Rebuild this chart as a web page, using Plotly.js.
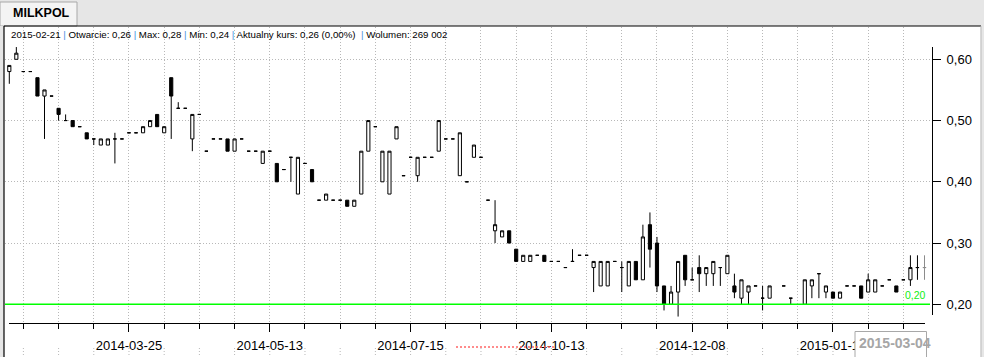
<!DOCTYPE html>
<html>
<head>
<meta charset="utf-8">
<script src="https://cdn.plot.ly/plotly-3.0.1.min.js"></script>
<style>
html,body{margin:0;padding:0;background:#fff;}
#chart{width:984px;height:357px;}
</style>
</head>
<body>
<div id="chart"></div>
<script>
// ---- data (one entry per trading session, null = empty slot) ----
const openP = [0.58,0.60,0.58,0.58,0.57,0.54,0.54,0.52,0.50,0.50,
  0.49,0.48,0.47,0.46,0.46,0.47,0.47,0.48,0.48,0.48,
  0.49,0.51,0.48,0.57,0.52,0.52,0.47,0.51,0.45,0.47,
  0.47,0.47,0.45,0.47,0.45,0.45,0.43,0.45,0.43,0.42,
  0.44,0.38,0.43,0.42,0.37,0.37,0.37,0.37,0.37,0.36,
  0.38,0.45,0.49,0.40,0.38,0.47,0.41,0.44,0.41,0.44,
  0.44,0.45,0.47,0.47,0.41,0.40,0.44,0.44,0.37,0.32,
  0.31,0.32,0.29,0.27,0.27,0.28,0.28,0.27,0.27,0.26,
  0.27,0.28,0.28,0.26,0.23,0.23,0.27,0.26,0.23,0.27,
  0.24,0.33,0.30,0.23,0.20,0.22,0.28,0.24,0.26,0.25,
  0.25,0.26,0.25,0.23,0.21,0.22,0.23,0.21,0.21,null,
  0.23,0.21,null,0.20,0.23,0.25,0.22,0.22,0.21,0.23,
  0.23,0.23,0.22,0.22,0.23,0.24,0.23,0.24,0.24,0.26,
  0.26];
const highP = [0.59,0.62,0.58,0.58,0.57,0.55,0.54,0.52,0.51,0.50,
  0.49,0.48,0.47,0.47,0.47,0.48,0.47,0.48,0.48,0.49,
  0.50,0.51,0.49,0.57,0.53,0.52,0.51,0.51,0.45,0.47,
  0.47,0.47,0.47,0.47,0.45,0.45,0.45,0.45,0.43,0.42,
  0.44,0.44,0.43,0.42,0.37,0.38,0.37,0.37,0.37,0.37,
  0.45,0.50,0.49,0.45,0.45,0.49,0.41,0.44,0.44,0.44,
  0.44,0.50,0.47,0.47,0.48,0.40,0.46,0.44,0.37,0.37,
  0.32,0.32,0.29,0.28,0.28,0.28,0.28,0.27,0.27,0.26,
  0.29,0.28,0.28,0.27,0.27,0.27,0.27,0.27,0.27,0.27,
  0.33,0.35,0.31,0.23,0.23,0.27,0.28,0.26,0.28,0.26,
  0.27,0.26,0.28,0.25,0.24,0.23,0.23,0.23,0.23,null,
  0.23,0.21,null,0.24,0.24,0.25,0.23,0.22,0.22,0.23,
  0.23,0.23,0.25,0.24,0.23,0.24,0.23,0.24,0.28,0.28,
  0.28];
const lowP = [0.56,0.60,0.58,0.58,0.54,0.47,0.54,0.50,0.50,0.49,
  0.49,0.47,0.46,0.46,0.46,0.43,0.47,0.48,0.48,0.48,
  0.49,0.49,0.48,0.47,0.52,0.52,0.45,0.51,0.45,0.47,
  0.47,0.45,0.45,0.47,0.45,0.45,0.43,0.45,0.40,0.42,
  0.40,0.38,0.43,0.40,0.37,0.37,0.37,0.37,0.36,0.36,
  0.38,0.45,0.49,0.40,0.38,0.47,0.41,0.44,0.40,0.44,
  0.44,0.45,0.47,0.47,0.41,0.40,0.44,0.44,0.37,0.30,
  0.31,0.30,0.27,0.27,0.27,0.28,0.27,0.27,0.27,0.26,
  0.27,0.28,0.28,0.22,0.23,0.23,0.27,0.22,0.23,0.24,
  0.24,0.26,0.22,0.19,0.20,0.18,0.23,0.24,0.22,0.23,
  0.23,0.23,0.25,0.21,0.20,0.20,0.23,0.19,0.21,null,
  0.23,0.20,null,0.20,0.21,0.21,0.21,0.21,0.21,0.23,
  0.23,0.21,0.22,0.22,0.23,0.24,0.22,0.24,0.23,0.24,
  0.24];
const closeP = [0.59,0.61,0.58,0.58,0.54,0.55,0.54,0.51,0.50,0.49,
  0.49,0.47,0.47,0.47,0.47,0.47,0.47,0.48,0.48,0.49,
  0.50,0.49,0.49,0.54,0.52,0.52,0.51,0.51,0.45,0.47,
  0.47,0.45,0.47,0.47,0.45,0.45,0.45,0.45,0.40,0.42,
  0.44,0.44,0.43,0.40,0.37,0.38,0.37,0.37,0.36,0.37,
  0.45,0.50,0.49,0.45,0.45,0.49,0.41,0.44,0.44,0.44,
  0.44,0.50,0.47,0.47,0.48,0.40,0.46,0.44,0.37,0.33,
  0.32,0.30,0.27,0.28,0.28,0.28,0.27,0.27,0.27,0.26,
  0.27,0.28,0.28,0.27,0.27,0.27,0.27,0.26,0.27,0.24,
  0.31,0.29,0.23,0.20,0.22,0.27,0.24,0.24,0.25,0.26,
  0.27,0.26,0.28,0.22,0.24,0.23,0.23,0.21,0.23,null,
  0.23,0.21,null,0.24,0.24,0.25,0.23,0.21,0.22,0.23,
  0.23,0.21,0.24,0.24,0.23,0.24,0.22,0.24,0.26,0.26,
  0.26];

const tickIdx    = [17, 37, 57, 77, 97, 117];
const tickLabels = ['2014-03-25','2014-05-13','2014-07-15','2014-10-13','2014-12-08','2015-01-14'];
const yTicks     = [0.20, 0.30, 0.40, 0.50, 0.60];
const levelLine  = 0.20;
const headerParts = ['2015-02-21','Otwarcie: 0,26','Max: 0,28','Min: 0,24','Aktualny kurs: 0,26 (0,00%) ','Wolumen: 269 002'];
const cursorDate = '2015-03-04';

// ---- geometry helpers ----
const PL = 5, PR = 932, PT = 27, PB = 323;
const PW = PR - PL, PH = PB - PT;
const px = v => (v - PL) / PW;
const py = v => (PB - v) / PH;

const n = openP.length;
const idx = openP.map((_, i) => i);
const last = n - 1;

const mainTrace = {
  type: 'candlestick',
  x: idx.slice(0, last), open: openP.slice(0, last), high: highP.slice(0, last),
  low: lowP.slice(0, last), close: closeP.slice(0, last),
  increasing: {line: {color: '#000', width: 1}, fillcolor: '#ffffff'},
  decreasing: {line: {color: '#000', width: 1}, fillcolor: '#000000'},
  whiskerwidth: 0, hoverinfo: 'skip', showlegend: false
};
const lastTrace = {
  type: 'candlestick',
  x: [idx[last - 1], idx[last]], open: [null, openP[last]], high: [null, highP[last]],
  low: [null, lowP[last]], close: [null, closeP[last]],
  increasing: {line: {color: '#8c8c8c', width: 1}, fillcolor: '#ffffff'},
  decreasing: {line: {color: '#8c8c8c', width: 1}, fillcolor: '#8c8c8c'},
  whiskerwidth: 0, hoverinfo: 'skip', showlegend: false
};

const gridDash = '1px,2px';
const gridCol = '#b8b8b8';

const shapes = [
  // tab strip
  {type:'rect', xref:'paper', yref:'paper', x0:px(0), x1:px(984), y0:py(0), y1:py(26), fillcolor:'#e6e6e6', line:{width:0}, layer:'below'},
  {type:'rect', xref:'paper', yref:'paper', x0:px(0), x1:px(77), y0:py(2), y1:py(26), fillcolor:'#f4f4f4', line:{color:'#a8a8a8', width:1}, layer:'below'},
  // left strip + frame
  {type:'rect', xref:'paper', yref:'paper', x0:px(0), x1:px(4), y0:py(26), y1:py(357), fillcolor:'#e6e6e6', line:{width:0}, layer:'below'},
  {type:'line', xref:'paper', yref:'paper', x0:px(4), x1:px(981), y0:py(26), y1:py(26), line:{color:'#000', width:1.2}},
  {type:'line', xref:'paper', yref:'paper', x0:px(4), x1:px(4), y0:py(26), y1:py(357), line:{color:'#000', width:1.2}},
  {type:'line', xref:'paper', yref:'paper', x0:px(981), x1:px(981), y0:py(26), y1:py(357), line:{color:'#b0b0b0', width:1}},
  {type:'rect', xref:'paper', yref:'paper', x0:px(981.5), x1:px(984), y0:py(0), y1:py(357), fillcolor:'#e6e6e6', line:{width:0}, layer:'below'},
  // axis lines
  {type:'line', xref:'paper', yref:'paper', x0:px(932.5), x1:px(932.5), y0:py(47), y1:py(315), line:{color:'#000', width:1}},
  {type:'line', xref:'paper', yref:'paper', x0:px(9), x1:px(925), y0:py(323.5), y1:py(323.5), line:{color:'#000', width:1}},
  // level line
  {type:'line', xref:'paper', yref:'y', x0:px(5), x1:px(930), y0:levelLine, y1:levelLine, line:{color:'#00ff00', width:1.5}},
  // scroll marker
  {type:'line', xref:'paper', yref:'paper', x0:px(456), x1:px(555), y0:py(347), y1:py(347), line:{color:'#ff6666', width:1.5, dash:'2px,2px'}},
];
// dotted grid continuation below the axis labels
for (let t = 2; t <= 131; t += 5) {
  shapes.push({type:'line', xref:'x', yref:'paper', x0:t, x1:t, y0:py(348), y1:py(357), line:{color:gridCol, width:1, dash:gridDash}});
}
// cursor date box
shapes.push({type:'rect', xref:'paper', yref:'paper', x0:px(855), x1:px(926.5), y0:py(331.5), y1:py(362), fillcolor:'#ffffff', line:{color:'#a8a8a8', width:1}});

const sep = '<span style="color:#4a90e0">|</span>';
const headerText = headerParts.join(' ' + sep + ' ');

const annotations = [
  {xref:'paper', yref:'paper', x:px(11), y:py(13.5), xanchor:'left', yanchor:'middle', showarrow:false,
   text:'<b>MILKPOL</b>', font:{family:'Liberation Sans, Arial, sans-serif', size:12.5, color:'#000'}},
  {xref:'paper', yref:'paper', x:px(9), y:py(35), xanchor:'left', yanchor:'middle', showarrow:false,
   text:headerText, font:{family:'Liberation Sans, Arial, sans-serif', size:9.7, color:'#000'}},
  {xref:'paper', yref:'y', x:px(915), y:levelLine, yshift:9, xanchor:'center', yanchor:'middle', showarrow:false,
   text:levelLine.toFixed(2).replace('.', ','), font:{family:'Liberation Sans, Arial, sans-serif', size:10.5, color:'#11ee11'}},
  {xref:'paper', yref:'paper', x:px(894.5), y:py(342.5), xanchor:'center', yanchor:'middle', showarrow:false,
   text:'<b>' + cursorDate + '</b>', font:{family:'Liberation Sans, Arial, sans-serif', size:14, color:'#a6a6a6'}}
];

const layout = {
  width: 984, height: 357,
  margin: {l: PL, r: 984 - PR, t: PT, b: 357 - PB, pad: 0},
  paper_bgcolor: '#ffffff', plot_bgcolor: '#ffffff',
  separators: ', ',
  showlegend: false, hovermode: false,
  boxgap: 0.36,
  font: {family: 'Liberation Sans, Arial, sans-serif', size: 13, color: '#000'},
  xaxis: {
    type: 'linear', range: [(PL - 9.3) / 7.04, (PR - 9.3) / 7.04],
    rangeslider: {visible: false},
    tickmode: 'array', tickvals: tickIdx, ticktext: tickLabels,
    ticks: 'outside', ticklen: 8, tickwidth: 1, tickcolor: '#000',
    ticklabelstandoff: 2,
    tickfont: {family: 'Liberation Sans, Arial, sans-serif', size: 13, color: '#000'},
    showgrid: true, gridcolor: gridCol, griddash: gridDash, gridwidth: 1,
    minor: {tickmode: 'linear', tick0: 2, dtick: 5, ticks: 'outside', ticklen: 5, tickwidth: 1, tickcolor: '#000',
            showgrid: true, gridcolor: gridCol, griddash: gridDash, gridwidth: 1},
    showline: false, zeroline: false, automargin: false, fixedrange: true
  },
  yaxis: {
    side: 'right', range: [0.20 - (PB - 304.3) / 612.5, 0.60 + (59.3 - PT) / 612.5],
    tickmode: 'array', tickvals: yTicks, tickformat: '.2f',
    ticks: 'outside', ticklen: 8, tickwidth: 1, tickcolor: '#000',
    ticklabelstandoff: 3,
    tickfont: {family: 'Liberation Sans, Arial, sans-serif', size: 13, color: '#000'},
    showgrid: true, gridcolor: gridCol, griddash: gridDash, gridwidth: 1,
    showline: false, zeroline: false, automargin: false, fixedrange: true
  },
  shapes: shapes,
  annotations: annotations
};

Plotly.newPlot('chart', [mainTrace, lastTrace], layout, {staticPlot: true, displayModeBar: false});
</script>
</body>
</html>
